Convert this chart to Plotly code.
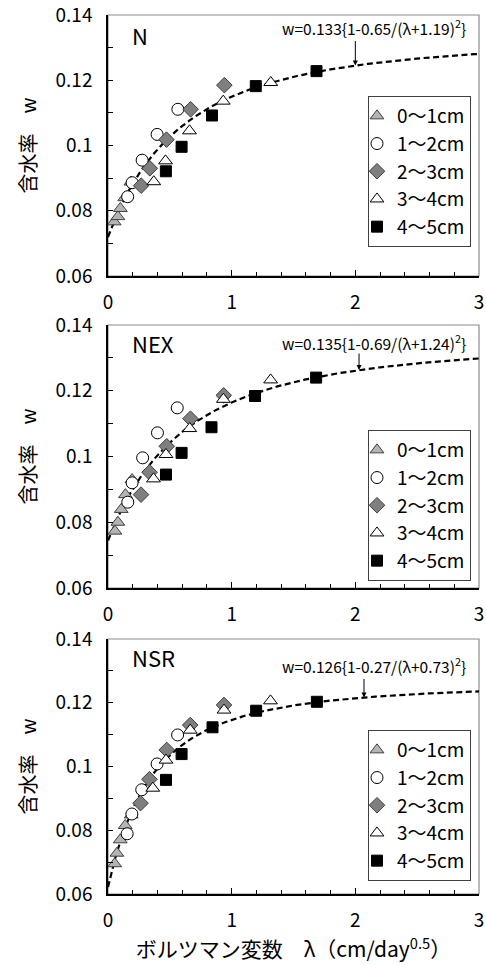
import numpy as np
import plotly.graph_objects as go

FONT = "Noto Sans CJK JP"

depth_names = ["0～1cm", "1～2cm", "2～3cm", "3～4cm", "4～5cm"]
panel_names = ["N", "NEX", "NSR"]

# fitted curve w = a{1 - b/(λ + c)^2}
fit_a = [0.133, 0.135, 0.126]
fit_b = [0.65, 0.69, 0.27]
fit_c = [1.19, 1.24, 0.73]

# ---- N ----
n_lam_01 = [0.05, 0.08, 0.10, 0.135, 0.185]
n_w_01 = [0.0766, 0.0782, 0.0807, 0.0840, 0.0888]
n_lam_12 = [0.159, 0.195, 0.276, 0.397, 0.565]
n_w_12 = [0.0843, 0.0886, 0.0955, 0.1034, 0.1111]
n_lam_23 = [0.268, 0.338, 0.473, 0.668, 0.941]
n_w_23 = [0.0877, 0.0930, 0.1018, 0.1111, 0.1185]
n_lam_34 = [0.370, 0.465, 0.659, 0.932, 1.316]
n_w_34 = [0.0889, 0.0953, 0.1045, 0.1136, 0.1193]
n_lam_45 = [0.468, 0.595, 0.841, 1.195, 1.686]
n_w_45 = [0.0921, 0.0996, 0.1092, 0.1182, 0.1228]

# ---- NEX ----
nex_lam_01 = [0.056, 0.080, 0.107, 0.141, 0.195]
nex_w_01 = [0.0773, 0.0800, 0.0839, 0.0884, 0.0930]
nex_lam_12 = [0.160, 0.195, 0.280, 0.400, 0.560]
nex_w_12 = [0.0861, 0.0920, 0.0996, 0.1072, 0.1148]
nex_lam_23 = [0.267, 0.336, 0.475, 0.667, 0.936]
nex_w_23 = [0.0884, 0.0952, 0.1031, 0.1115, 0.1186]
nex_lam_34 = [0.368, 0.469, 0.661, 0.933, 1.315]
nex_w_34 = [0.0932, 0.1006, 0.1085, 0.1174, 0.1233]
nex_lam_45 = [0.469, 0.595, 0.837, 1.189, 1.683]
nex_w_45 = [0.0945, 0.1011, 0.1089, 0.1184, 0.1240]

# ---- NSR ----
nsr_lam_01 = [0.054, 0.072, 0.099, 0.139, 0.188]
nsr_w_01 = [0.0695, 0.0728, 0.0770, 0.0815, 0.0848]
nsr_lam_12 = [0.155, 0.193, 0.273, 0.397, 0.563]
nsr_w_12 = [0.0789, 0.0851, 0.0927, 0.1008, 0.1099]
nsr_lam_23 = [0.263, 0.335, 0.475, 0.665, 0.938]
nsr_w_23 = [0.0885, 0.0960, 0.1052, 0.1130, 0.1193]
nsr_lam_34 = [0.362, 0.469, 0.665, 0.938, 1.314]
nsr_w_34 = [0.0932, 0.1020, 0.1114, 0.1177, 0.1206]
nsr_lam_45 = [0.469, 0.595, 0.845, 1.198, 1.689]
nsr_w_45 = [0.0958, 0.1039, 0.1123, 0.1175, 0.1203]

panels = [
    [(n_lam_01, n_w_01), (n_lam_12, n_w_12), (n_lam_23, n_w_23),
     (n_lam_34, n_w_34), (n_lam_45, n_w_45)],
    [(nex_lam_01, nex_w_01), (nex_lam_12, nex_w_12), (nex_lam_23, nex_w_23),
     (nex_lam_34, nex_w_34), (nex_lam_45, nex_w_45)],
    [(nsr_lam_01, nsr_w_01), (nsr_lam_12, nsr_w_12), (nsr_lam_23, nsr_w_23),
     (nsr_lam_34, nsr_w_34), (nsr_lam_45, nsr_w_45)],
]

# where the label arrow touches each curve
arrow_lam = [2.0, 2.03, 2.07]
arrow_len = [26, 18, 20]

marker_styles = [
    dict(symbol="triangle-up", size=12, color="#b4b4b4", line=dict(color="#404040", width=1)),
    dict(symbol="circle", size=12, color="white", line=dict(color="black", width=1)),
    dict(symbol="diamond", size=12, color="#7f7f7f", line=dict(color="#404040", width=1)),
    dict(symbol="triangle-up", size=12, color="white", line=dict(color="black", width=1)),
    dict(symbol="square", size=11, color="black", line=dict(color="black", width=1)),
]

W, H = 486, 965
x_left, x_right = 108, 479
panel_px = [(15, 276), (325, 588), (639, 894)]
legend_top = [96, 430, 730]
legend_left = 368


def fy(p):
    return 1 - p / H


fig = go.Figure()
lam_curve = np.linspace(0, 3, 301)

for i, series in enumerate(panels):
    ax_id = "" if i == 0 else str(i + 1)
    xr, yr = "x" + ax_id, "y" + ax_id
    leg = "legend" if i == 0 else "legend" + str(i + 1)
    a, b, c = fit_a[i], fit_b[i], fit_c[i]
    w_curve = a * (1 - b / (lam_curve + c) ** 2)
    fig.add_trace(go.Scatter(
        x=lam_curve, y=w_curve, mode="lines", xaxis=xr, yaxis=yr,
        line=dict(color="black", width=2.2, dash="6px,3.5px"),
        showlegend=False, hoverinfo="skip", cliponaxis=True))
    for k, (lx, wy) in enumerate(series):
        fig.add_trace(go.Scatter(
            x=lx, y=wy, mode="markers", xaxis=xr, yaxis=yr,
            marker=marker_styles[k], name=depth_names[k],
            legend=leg, legendgroup=f"p{i}g{k}", cliponaxis=False))

    top, bot = panel_px[i]
    dom_y = [fy(bot), fy(top)]
    axis_common = dict(showgrid=False, zeroline=False, showline=True,
                       linecolor="black", linewidth=1.5, ticks="inside",
                       tickcolor="black", tickwidth=1, automargin=False,
                       ticklabeloverflow="allow",
                       tickfont=dict(family=FONT, size=19, color="black"))
    fig.layout["xaxis" + ax_id] = dict(
        axis_common, domain=[x_left / W, x_right / W], range=[0, 3],
        dtick=1, tick0=0, ticklen=6, anchor=yr, ticklabelstandoff=8,
        minor=dict(dtick=0.2, ticks="inside", ticklen=4, tickcolor="black"))
    fig.layout["yaxis" + ax_id] = dict(
        axis_common, domain=dom_y, range=[0.06, 0.14], dtick=0.02, tick0=0.06,
        ticklen=5, anchor=xr, ticklabelstandoff=10,
        minor=dict(dtick=0.01, ticks="inside", ticklen=5, tickcolor="black"),
        title=dict(text="含水率　w", standoff=14,
                   font=dict(family=FONT, size=20, color="black")))

    # plot-area frame
    fig.add_shape(type="rect", xref=xr + " domain", yref=yr + " domain",
                  x0=0, x1=1, y0=0, y1=1, line=dict(color="#8c8c8c", width=1.2),
                  layer="below")

    fig.add_annotation(text=panel_names[i], xref=xr + " domain", yref=yr + " domain",
                       x=0.06, y=[0.923, 0.932, 0.929][i], xanchor="left", yanchor="middle",
                       showarrow=False, font=dict(family=FONT, size=22, color="black"))
    label = f"w={a}{{1-{b}/(λ+{c})<sup>2</sup>}}"
    fig.add_annotation(text=label, xref=xr + " domain", yref=yr + " domain",
                       x=0.97, y=[0.953, 0.935, 0.898][i], xanchor="right", yanchor="middle",
                       showarrow=False, font=dict(family=FONT, size=15.5, color="black"))
    lam_a = arrow_lam[i]
    fig.add_annotation(text="", x=lam_a, y=a * (1 - b / (lam_a + c) ** 2),
                       xref=xr, yref=yr, showarrow=True, ax=0, ay=-arrow_len[i],
                       arrowhead=2, arrowsize=1, arrowwidth=1, arrowcolor="black",
                       standoff=0)

    fig.layout[leg] = dict(
        x=legend_left / W, y=fy(legend_top[i]), xanchor="left", yanchor="top",
        bgcolor="white", bordercolor="#404040", borderwidth=1,
        font=dict(family=FONT, size=19, color="black"),
        tracegroupgap=7, itemwidth=30, indentation=-12, traceorder="normal")

fig.layout.xaxis3.title = dict(text="ボルツマン変数　λ（cm/day<sup>0.5</sup>）", standoff=6,
                               font=dict(family=FONT, size=21, color="black"))

fig.update_layout(
    width=W, height=H, margin=dict(l=0, r=0, t=0, b=0, autoexpand=False),
    paper_bgcolor="white", plot_bgcolor="white",
    font=dict(family=FONT, color="black"),
)

fig.write_html("out.html")
